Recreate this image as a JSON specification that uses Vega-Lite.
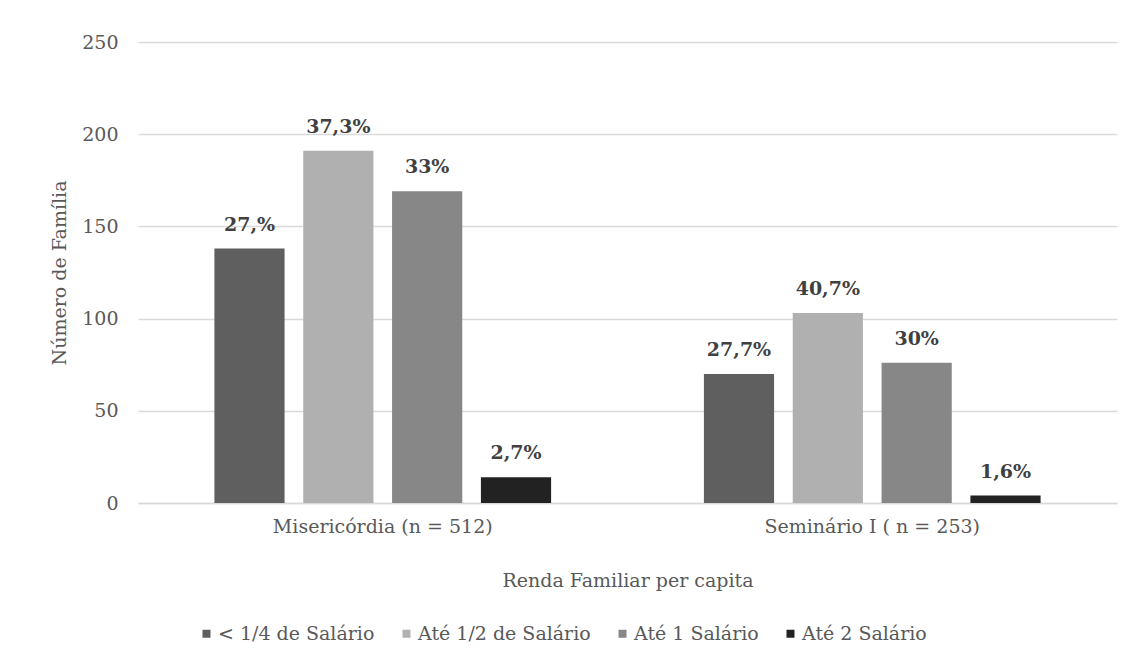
{
  "$schema": "https://vega.github.io/schema/vega-lite/v6.json",
  "width": 979,
  "height": 461,
  "autosize": {"type": "none"},
  "padding": {"left": 138, "top": 42, "right": 13, "bottom": 162},
  "background": "white",
  "config": {
    "view": {"stroke": null},
    "font": "DejaVu Serif",
    "axis": {
      "labelFont": "DejaVu Serif",
      "titleFont": "DejaVu Serif",
      "labelColor": "#595959",
      "titleColor": "#595959",
      "labelFontSize": 19,
      "titleFontSize": 19,
      "titleFontWeight": "normal",
      "labelLimit": 0
    },
    "legend": {
      "labelFont": "DejaVu Serif",
      "labelColor": "#595959",
      "labelFontSize": 19,
      "labelLimit": 0
    }
  },
  "data": {
    "values": [
      {"grupo": "Misericórdia (n = 512)", "renda": "< 1/4 de Salário", "familias": 138, "rotulo": "27,%"},
      {"grupo": "Misericórdia (n = 512)", "renda": "Até 1/2 de Salário", "familias": 191, "rotulo": "37,3%"},
      {"grupo": "Misericórdia (n = 512)", "renda": "Até 1 Salário", "familias": 169, "rotulo": "33%"},
      {"grupo": "Misericórdia (n = 512)", "renda": "Até 2 Salário", "familias": 14, "rotulo": "2,7%"},
      {"grupo": "Seminário I ( n = 253)", "renda": "< 1/4 de Salário", "familias": 70, "rotulo": "27,7%"},
      {"grupo": "Seminário I ( n = 253)", "renda": "Até 1/2 de Salário", "familias": 103, "rotulo": "40,7%"},
      {"grupo": "Seminário I ( n = 253)", "renda": "Até 1 Salário", "familias": 76, "rotulo": "30%"},
      {"grupo": "Seminário I ( n = 253)", "renda": "Até 2 Salário", "familias": 4, "rotulo": "1,6%"}
    ]
  },
  "encoding": {
    "x": {
      "field": "grupo",
      "type": "nominal",
      "sort": ["Misericórdia (n = 512)", "Seminário I ( n = 253)"],
      "scale": {"paddingInner": 0, "paddingOuter": 0},
      "axis": {
        "title": "Renda Familiar  per capita",
        "labelAngle": 0,
        "ticks": false,
        "tickSize": 0,
        "labelPadding": 14,
        "titlePadding": 35,
        "domainColor": "#d9d9d9",
        "domainWidth": 1.5,
        "grid": false
      }
    },
    "xOffset": {
      "field": "renda",
      "type": "nominal",
      "sort": ["< 1/4 de Salário", "Até 1/2 de Salário", "Até 1 Salário", "Até 2 Salário"],
      "scale": {"paddingInner": 0.21, "paddingOuter": 0.86}
    },
    "y": {
      "field": "familias",
      "type": "quantitative",
      "scale": {"domain": [0, 250], "nice": false},
      "axis": {
        "title": "Número  de Família",
        "values": [0, 50, 100, 150, 200, 250],
        "domain": false,
        "ticks": false,
        "tickSize": 0,
        "labelPadding": 20,
        "titlePadding": 12,
        "gridColor": "#d9d9d9",
        "gridWidth": 1.5
      }
    }
  },
  "layer": [
    {
      "mark": {"type": "bar"},
      "encoding": {
        "color": {
          "field": "renda",
          "type": "nominal",
          "sort": ["< 1/4 de Salário", "Até 1/2 de Salário", "Até 1 Salário", "Até 2 Salário"],
          "scale": {
            "domain": ["< 1/4 de Salário", "Até 1/2 de Salário", "Até 1 Salário", "Até 2 Salário"],
            "range": ["#5f5f5f", "#b0b0b0", "#878787", "#222222"]
          },
          "legend": {
            "title": null,
            "orient": "none",
            "direction": "horizontal",
            "legendX": 59,
            "legendY": 582,
            "padding": 0,
            "symbolType": "square",
            "symbolSize": 64,
            "symbolStrokeWidth": 0,
            "labelOffset": 2,
            "columnPadding": 22
          }
        }
      }
    },
    {
      "mark": {
        "type": "text",
        "baseline": "alphabetic",
        "dy": -18,
        "fontWeight": "bold",
        "fontSize": 19,
        "color": "#404040"
      },
      "encoding": {
        "text": {"field": "rotulo"}
      }
    }
  ]
}
